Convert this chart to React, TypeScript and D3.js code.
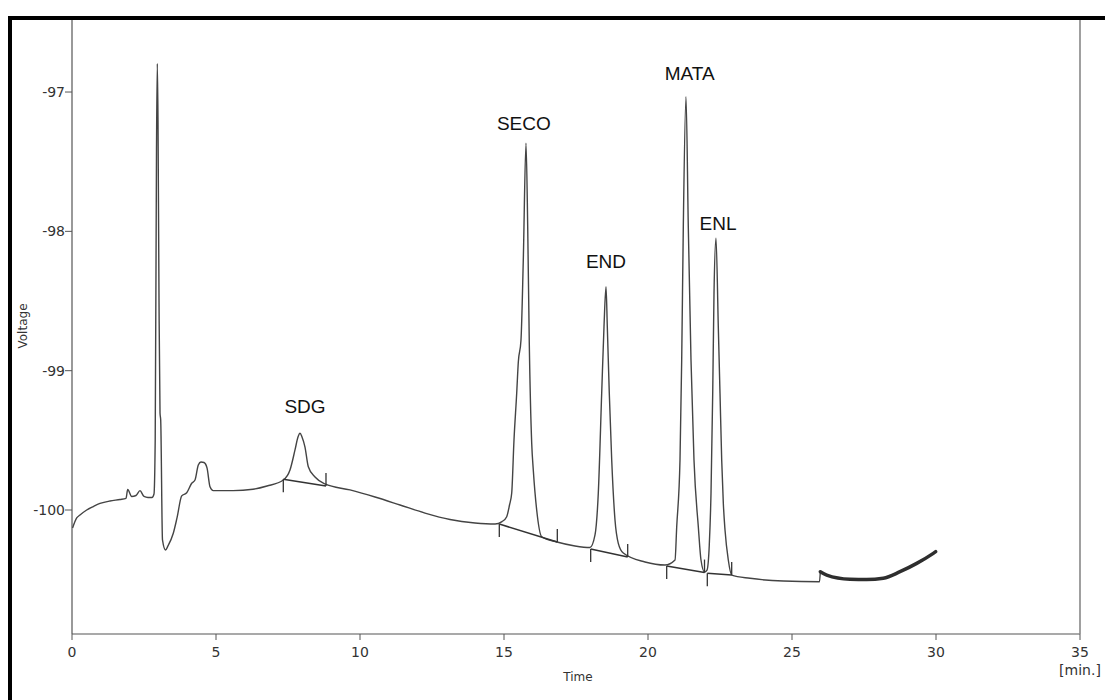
import React from "react";
import * as d3 from "d3";

// Chromatogram trace: time (min) and voltage
const traceTime = [
  0.02, 0.163, 0.278, 0.51, 0.74, 0.972, 1.319, 1.667, 1.875, 1.934, 2.073, 2.222, 2.361, 2.5, 2.639, 2.778, 2.847,
  2.889, 2.934, 2.962, 2.986, 3.021, 3.056, 3.08, 3.142, 3.247, 3.333, 3.517, 3.646, 3.809, 3.983, 4.156, 4.271,
  4.385, 4.479, 4.583, 4.688, 4.792, 4.906, 5.59, 6.285, 6.771, 7.337, 7.569, 7.743, 7.847, 7.917, 7.986, 8.09,
  8.205, 8.438, 8.785, 9.653, 10.521, 11.389, 12.257, 13.125, 13.993, 14.688, 14.931, 15.094, 15.191, 15.267,
  15.347, 15.441, 15.497, 15.59, 15.67, 15.764, 15.823, 15.878, 15.962, 16.017, 16.135, 16.309, 16.84, 17.465,
  17.986, 18.16, 18.274, 18.392, 18.472, 18.542, 18.587, 18.656, 18.74, 18.854, 18.969, 19.142, 19.896, 20.59,
  20.938, 20.997, 21.111, 21.17, 21.226, 21.319, 21.399, 21.493, 21.597, 21.747, 21.84, 21.962, 22.049, 22.128,
  22.188, 22.247, 22.292, 22.361, 22.441, 22.5, 22.559, 22.615, 22.674, 22.788, 22.906, 23.542, 24.698, 25.955,
  25.983,
];
const traceVolt = [
  -100.129, -100.057, -100.036, -100.0, -99.975, -99.953, -99.935, -99.925, -99.917, -99.853, -99.903, -99.896,
  -99.861, -99.903, -99.91, -99.91, -99.885, -99.497, -97.416, -96.795, -97.2, -98.492, -99.304, -99.354, -100.215,
  -100.287, -100.258, -100.167, -100.057, -99.899, -99.876, -99.808, -99.785, -99.677, -99.655, -99.659, -99.698,
  -99.833, -99.861, -99.861, -99.851, -99.828, -99.785, -99.713, -99.569, -99.476, -99.449, -99.476, -99.548,
  -99.689, -99.763, -99.813, -99.856, -99.907, -99.964, -100.022, -100.068, -100.093, -100.101, -100.083, -100.048,
  -99.964, -99.88, -99.497, -99.162, -98.938, -98.78, -98.205, -97.368, -97.966, -98.803, -99.521, -99.713, -100.0,
  -100.192, -100.23, -100.258, -100.269, -100.179, -99.88, -99.162, -98.684, -98.397, -98.684, -99.162, -99.641,
  -100.072, -100.239, -100.309, -100.373, -100.395, -100.359, -100.12, -99.641, -98.923, -97.966, -97.033, -97.966,
  -98.923, -99.641, -100.12, -100.359, -100.445, -100.431, -100.251, -99.878, -99.16, -98.442, -98.05, -98.684,
  -99.16, -99.641, -99.95, -100.144, -100.359, -100.467, -100.49, -100.51, -100.515, -100.443,
];

// Noisy tail of the run (drawn as a thick band)
const noiseTime = [25.983, 26.205, 27.014, 27.594, 28.17, 28.75, 29.33, 29.906, 29.99];
const noiseVolt = [-100.443, -100.467, -100.497, -100.499, -100.49, -100.443, -100.383, -100.311, -100.299];

// Integrated peaks
const peakNames = ["SDG", "SECO", "END", "MATA", "ENL"];
const peakStartTime = [7.337, 14.837, 18.01, 20.649, 22.059];
const peakStartVolt = [-99.78, -100.101, -100.28, -100.402, -100.454];
const peakEndTime = [8.819, 16.851, 19.295, 21.962, 22.906];
const peakEndVolt = [-99.828, -100.23, -100.337, -100.449, -100.467];
const labelTime = [8.09, 15.69, 18.54, 21.45, 22.43];
const labelVolt = [-99.304, -97.272, -98.263, -96.913, -97.99];

// Axis ticks
const xTicks = [0, 5, 10, 15, 20, 25, 30, 35];
const yTicks = [-100, -99, -98, -97];

export default function App() {
  const W = 1105;
  const H = 700;
  const left = 72, right = 1080, top = 20, bottom = 634;
  const x = d3.scaleLinear().domain([0, 35]).range([left, right]);
  const y = d3.scaleLinear().domain([-100.89, -96.483]).range([bottom, top]);

  const line = d3
    .line<number>()
    .x((i) => x(traceTime[i]))
    .y((i) => y(traceVolt[i]))
    .curve(d3.curveMonotoneX);
  const noiseLine = d3
    .line<number>()
    .x((i) => x(noiseTime[i]))
    .y((i) => y(noiseVolt[i]))
    .curve(d3.curveMonotoneX);

  const tickFont = "'DejaVu Sans', Verdana, sans-serif";
  const labelFont = "'Liberation Sans', Arial, sans-serif";
  const tickLen = 13;

  return (
    <svg
      width={W}
      height={H}
      style={{ position: "absolute", left: 0, top: 0, background: "#fff" }}
    >
      <rect x={0} y={0} width={W} height={H} fill="#fff" />
      {/* outer frame */}
      <rect x={10} y={18} width={1400} height={1000} fill="none" stroke="#000" strokeWidth={4} />

      {/* axes */}
      <line x1={left} x2={left} y1={top} y2={bottom} stroke="#555" strokeWidth={1.2} />
      <line x1={left} x2={right} y1={bottom} y2={bottom} stroke="#555" strokeWidth={1.2} />
      <line x1={right} x2={right} y1={top} y2={bottom} stroke="#888" strokeWidth={1.6} />

      {yTicks.map((v) => (
        <g key={v}>
          <line x1={left - 7} x2={left} y1={y(v)} y2={y(v)} stroke="#555" strokeWidth={1} />
          <text
            x={left - 7}
            y={y(v)}
            dy="0.35em"
            textAnchor="end"
            fontFamily={tickFont}
            fontSize={14}
            fill="#333"
          >
            {v}
          </text>
        </g>
      ))}
      {xTicks.map((t) => (
        <g key={t}>
          <line x1={x(t)} x2={x(t)} y1={bottom} y2={bottom + 6} stroke="#555" strokeWidth={1} />
          <text
            x={x(t)}
            y={bottom + 23}
            textAnchor="middle"
            fontFamily={tickFont}
            fontSize={14}
            fill="#333"
          >
            {t}
          </text>
        </g>
      ))}
      <text x={right} y={675} textAnchor="middle" fontFamily={tickFont} fontSize={14} fill="#333">
        [min.]
      </text>
      <text x={578} y={681} textAnchor="middle" fontFamily={tickFont} fontSize={12} fill="#333">
        Time
      </text>
      <text
        transform={`translate(27,326) rotate(-90)`}
        textAnchor="middle"
        fontFamily={tickFont}
        fontSize={12}
        fill="#333"
      >
        Voltage
      </text>

      {/* trace */}
      <path
        d={line(d3.range(traceTime.length)) || ""}
        fill="none"
        stroke="#444"
        strokeWidth={1.4}
        strokeLinejoin="round"
      />
      <path
        d={noiseLine(d3.range(noiseTime.length)) || ""}
        fill="none"
        stroke="#2e2e2e"
        strokeWidth={3.5}
        strokeLinecap="round"
      />

      {/* integration baselines and markers */}
      {peakNames.map((n, i) => {
        const sx = x(peakStartTime[i]);
        const sy = y(peakStartVolt[i]);
        const ex = x(peakEndTime[i]);
        const ey = y(peakEndVolt[i]);
        return (
          <g key={n}>
            <line x1={sx} y1={sy} x2={ex} y2={ey} stroke="#333" strokeWidth={1.5} />
            <line x1={sx} y1={sy} x2={sx} y2={sy + tickLen} stroke="#333" strokeWidth={1.3} />
            <line x1={ex} y1={ey} x2={ex} y2={ey - tickLen} stroke="#333" strokeWidth={1.3} />
            <text
              x={x(labelTime[i])}
              y={y(labelVolt[i])}
              textAnchor="middle"
              fontFamily={labelFont}
              fontSize={19}
              fill="#111"
            >
              {n}
            </text>
          </g>
        );
      })}
    </svg>
  );
}
